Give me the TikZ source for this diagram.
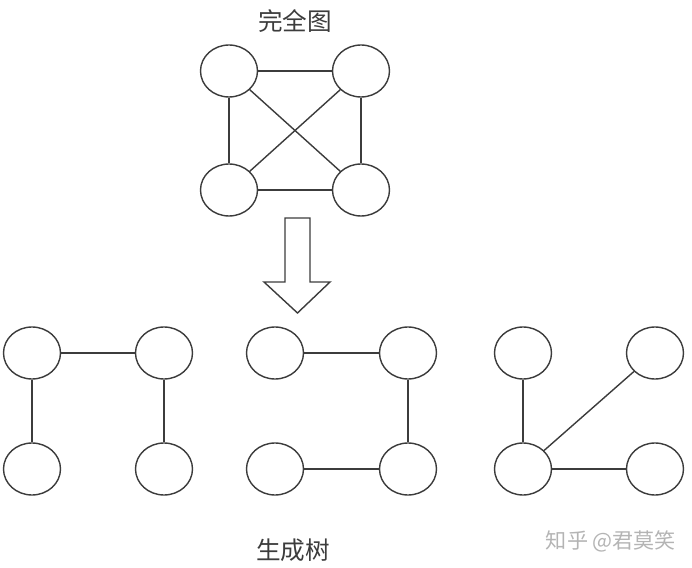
\documentclass[tikz,border=0pt]{standalone}
\usepackage{fontspec}
\newfontfamily\cjk{Noto Sans CJK SC}
\usetikzlibrary{shapes.geometric}
\definecolor{linegray}{HTML}{3C3C3C}
\definecolor{markgray}{HTML}{B4B4B4}

\begin{document}
\begin{tikzpicture}[x=0.03cm,y=-0.03cm,line width=1.2pt,
			every edge/.style={draw=linegray,line width=1.2pt}]
			\tikzstyle{vertex}=[ellipse,draw=linegray,line width=1.2pt,
				minimum width=1.71cm,minimum height=1.56cm,inner sep=0pt]
			\tikzstyle{caption}=[font=\cjk\fontsize{21}{25}\selectfont,text=linegray]
			\useasboundingbox (0,0) rectangle (692,568);
			
			% complete graph
			\node[caption] (title) at (295,21) {完全图};
			\node[vertex] (k1) at (229,71)  {};
			\node[vertex] (k2) at (361,71)  {};
			\node[vertex] (k3) at (229,190) {};
			\node[vertex] (k4) at (361,190) {};
			
			\path
				(k1) edge (k2)
					edge (k3)
					edge (k4)
				(k2) edge (k3)
					edge (k4)
				(k3) edge (k4)
			;
			
			% hollow arrow
			\draw[linegray] (285,218) -- (310,218) -- (310,282) -- (330,282)
				-- (297.5,313) -- (264,282) -- (285,282) -- cycle;
			
			% spanning trees
			\node[vertex] (a1) at (32,353)  {};
			\node[vertex] (a2) at (164,353) {};
			\node[vertex] (a3) at (32,469)  {};
			\node[vertex] (a4) at (164,469) {};
			
			\node[vertex] (b1) at (275,353) {};
			\node[vertex] (b2) at (408,353) {};
			\node[vertex] (b3) at (275,469) {};
			\node[vertex] (b4) at (408,469) {};
			
			\node[vertex] (c1) at (523,353) {};
			\node[vertex] (c2) at (655,353) {};
			\node[vertex] (c3) at (523,469) {};
			\node[vertex] (c4) at (655,469) {};
			
			\path
				(a1) edge (a2)
					edge (a3)
				(a2) edge (a4)
				(b1) edge (b2)
				(b2) edge (b4)
				(b3) edge (b4)
				(c3) edge (c1)
					edge (c2)
					edge (c4)
			;
			
			\node[caption] (tree) at (293,550) {生成树};
			\node[font=\cjk\fontsize{18}{22}\selectfont,text=markgray] (mark) at (611,541) {知乎 @君莫笑};
\end{tikzpicture}
\end{document}
